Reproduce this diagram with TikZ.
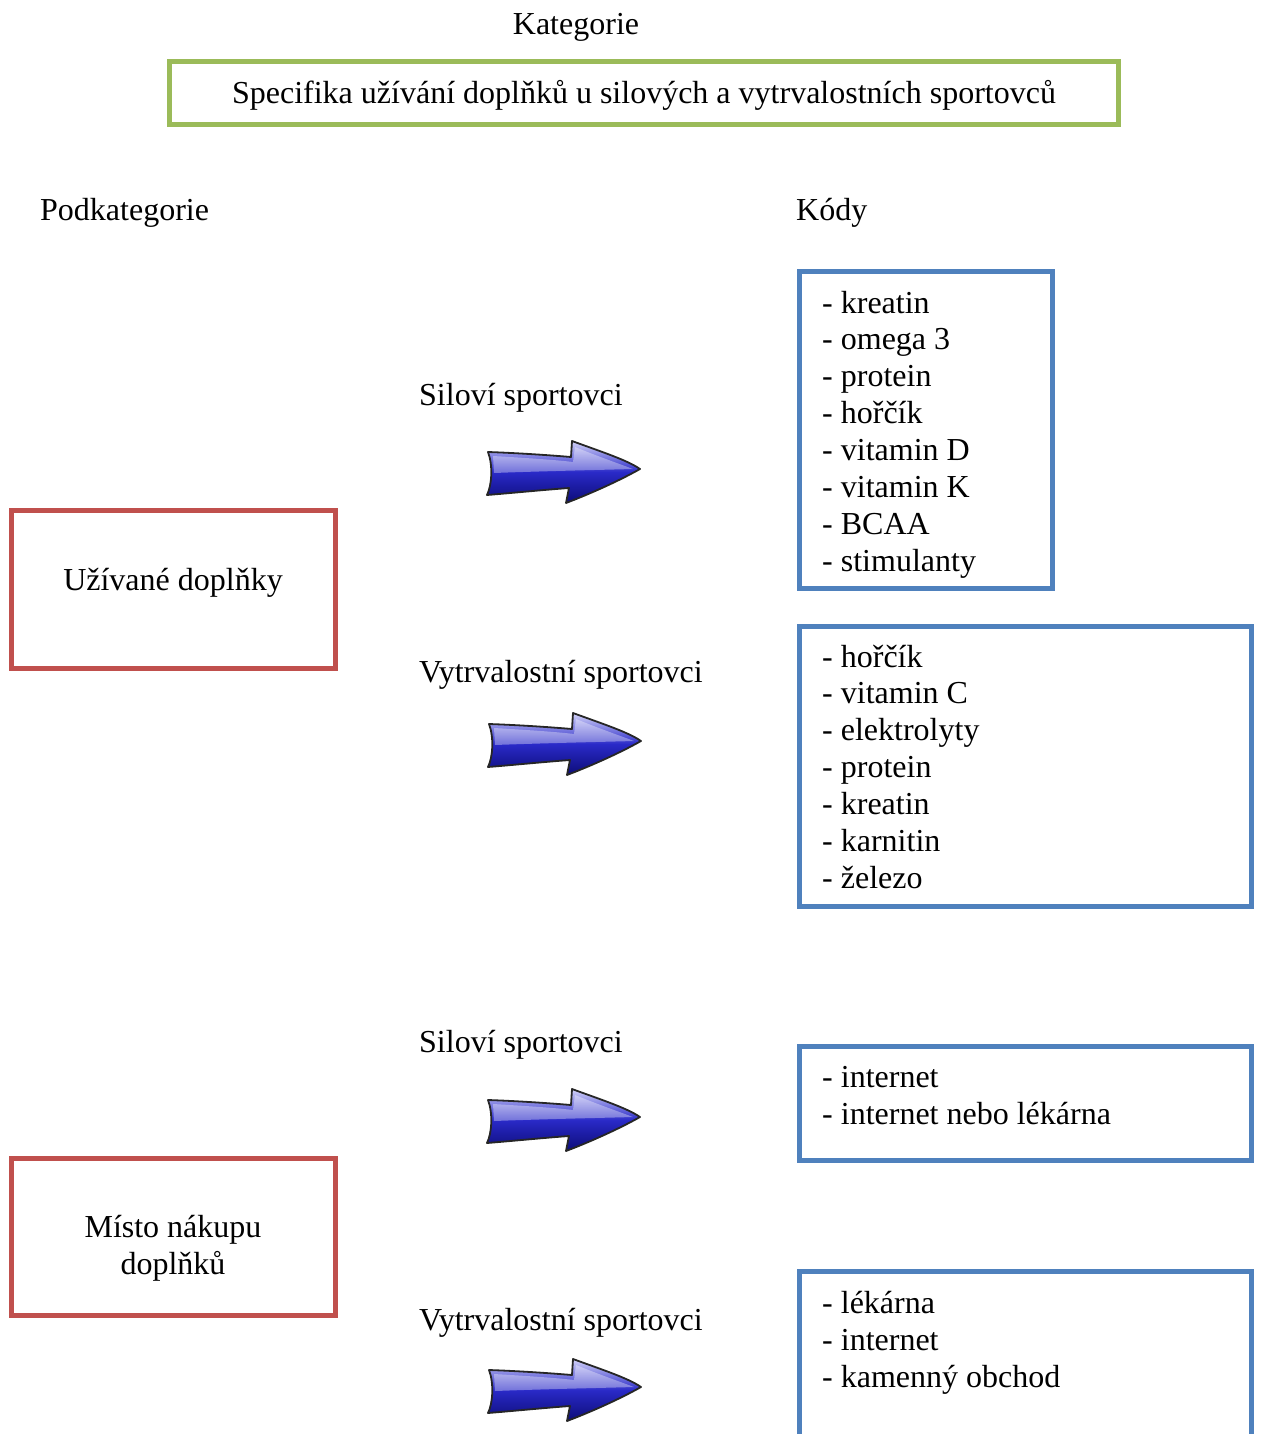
\documentclass[tikz,border=0pt]{standalone}
\usepackage{fontspec}
\setmainfont{Liberation Serif}
\definecolor{catgreen}{HTML}{9BBB59}
\definecolor{subred}{HTML}{C0504D}
\definecolor{codeblue}{HTML}{4F81BD}
\definecolor{arrowlight}{HTML}{D4D4FA}
\definecolor{arrowmid}{HTML}{2A2AC8}
\definecolor{arrowdark}{HTML}{0C0C78}
\begin{document}
\begin{tikzpicture}[x=1pt,y=-1pt,
  font=\fontsize{32}{36.9}\selectfont,
  box/.style={draw, line width=5pt, inner sep=0pt, outer sep=0pt, anchor=north west},
  catbox/.style={box, draw=catgreen},
  subbox/.style={box, draw=subred},
  codebox/.style={box, draw=codeblue},
  lab/.style={anchor=base west, inner sep=0pt},
  ctr/.style={anchor=base, inner sep=0pt},
  fatarrow/.pic={
    \fill[top color=arrowlight, bottom color=arrowdark, middle color=arrowmid]
      (1,12) .. controls (30,13) and (60,15) .. (84,17) -- (85,1)
      .. controls (115,12) and (140,20) .. (153,29)
      .. controls (130,42) and (100,55) .. (79,63) -- (82,48)
      .. controls (55,50) and (25,53) .. (0,55)
      .. controls (5,45) and (6,25) .. (1,12) -- cycle;
    \fill[white, opacity=0.35]
      (6,16) .. controls (40,18) and (70,20) .. (86,22) -- (88,7)
      .. controls (110,16) and (130,23) .. (146,29)
      .. controls (110,30) and (60,31) .. (7,33) -- cycle;
    \draw[line width=1.8pt, line join=round, black!85]
      (1,12) .. controls (30,13) and (60,15) .. (84,17) -- (85,1)
      .. controls (115,12) and (140,20) .. (153,29)
      .. controls (130,42) and (100,55) .. (79,63) -- (82,48)
      .. controls (55,50) and (25,53) .. (0,55)
      .. controls (5,45) and (6,25) .. (1,12) -- cycle;
  }]
\useasboundingbox (0,0) rectangle (1261,1434);

% headings
\node[ctr] (kat) at (576,35) {Kategorie};
\node[lab] (podkat) at (40,220) {Podkategorie};
\node[lab] (kody) at (796,220) {Kódy};

% category
\node[catbox, minimum width=949pt, minimum height=63pt] (cat) at (169,62) {};
\node[ctr] (cattext) at (644,104) {Specifika užívání doplňků u silových a vytrvalostních sportovců};

% subcategories
\node[subbox, minimum width=324pt, minimum height=158pt] (sub1) at (11,510) {};
\node[ctr] (sub1text) at (173,590) {Užívané doplňky};
\node[subbox, minimum width=324pt, minimum height=157pt] (sub2) at (11,1158) {};
\node[ctr] (sub2a) at (173,1237) {Místo nákupu};
\node[ctr] (sub2b) at (173,1274) {doplňků};

% group labels
\node[lab] (g1) at (419,405) {Siloví sportovci};
\node[lab] (g2) at (419,682) {Vytrvalostní sportovci};
\node[lab] (g3) at (419,1052) {Siloví sportovci};
\node[lab] (g4) at (419,1330) {Vytrvalostní sportovci};

% arrows
\pic at (487,440) {fatarrow};
\pic at (488,712) {fatarrow};
\pic at (487,1088) {fatarrow};
\pic at (488,1358) {fatarrow};

% code boxes
\node[codebox, minimum width=253pt, minimum height=317pt] (c1) at (799,271) {};
\foreach \t [count=\i from 0] in {kreatin, omega 3, protein, hořčík, vitamin D, vitamin K, BCAA, stimulanty}
  \node[lab] (c1-\i) at (822,313+36.9*\i) {- \t};

\node[codebox, minimum width=452pt, minimum height=280pt] (c2) at (799,626) {};
\foreach \t [count=\i from 0] in {hořčík, vitamin C, elektrolyty, protein, kreatin, karnitin, železo}
  \node[lab] (c2-\i) at (822,667+36.9*\i) {- \t};

\node[codebox, minimum width=452pt, minimum height=114pt] (c3) at (799,1046) {};
\foreach \t [count=\i from 0] in {internet, internet nebo lékárna}
  \node[lab] (c3-\i) at (822,1087+37.5*\i) {- \t};

\node[codebox, minimum width=452pt, minimum height=200pt] (c4) at (799,1271) {};
\foreach \t [count=\i from 0] in {lékárna, internet, kamenný obchod}
  \node[lab] (c4-\i) at (822,1313+37*\i) {- \t};
\end{tikzpicture}
\end{document}
